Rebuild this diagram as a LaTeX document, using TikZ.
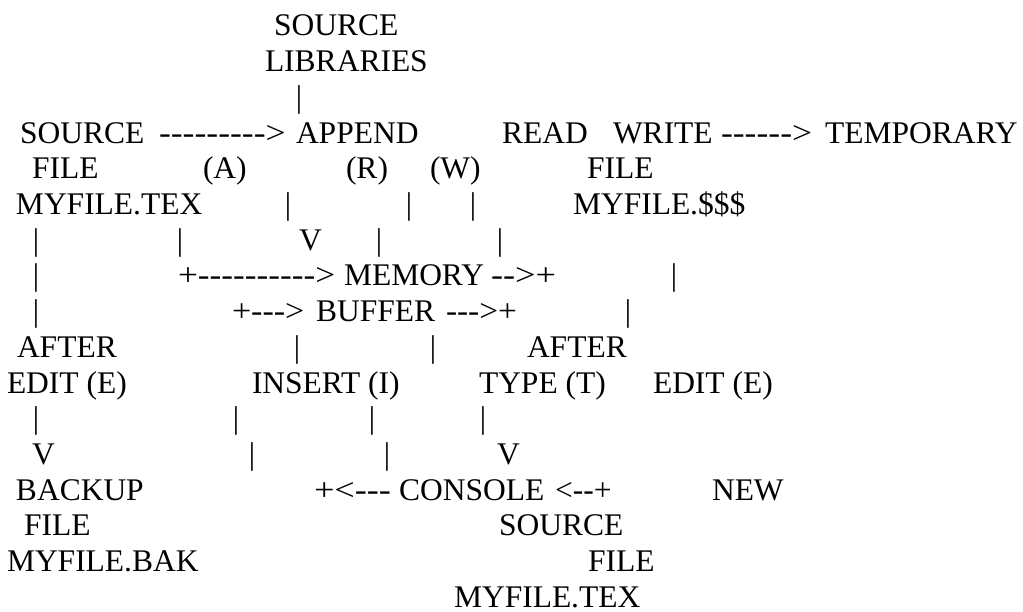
\documentclass[tikz,border=0pt]{standalone}
\usepackage{fontspec}
\usepackage{graphicx}
\setmainfont{Liberation Serif}
\tikzset{
  txt/.style={anchor=base west, inner sep=0pt, outer sep=0pt},
  bar/.style={anchor=base, inner sep=0pt, outer sep=0pt},
}
% one row of the chart: baseline in px from the top
\def\row#1{-(36+(#1-1)*35.7)}
% a run of dashes, a bit wider than the font sets it
\newcommand{\dashrun}[2]{\scalebox{#1}[1]{#2}}
\begin{document}
\begin{tikzpicture}[x=1pt,y=1pt,font=\fontsize{31.5}{36}\selectfont]
		%%%%% START %%%%%
		\useasboundingbox (0,0) rectangle (1023,-612);
		
		\node[txt] (srclib) at (274,{\row{1}}) {SOURCE};
		\node[txt] (srclibb) at (265,{\row{2}}) {LIBRARIES};
		\node[bar] (srclibbar) at (299,{\row{3}}) {|};
		
		\node[txt] (src) at (20,{\row{4}}) {SOURCE};
		\node[txt] (srcarr) at (159,{\row{4}}) {\dashrun{1.13}{-{}-{}-{}-{}-{}-{}-{}-{}->}};
		\node[txt] (append) at (296,{\row{4}}) {APPEND};
		\node[txt] (read) at (502,{\row{4}}) {READ};
		\node[txt] (write) at (613,{\row{4}}) {WRITE};
		\node[txt] (wrarr) at (721,{\row{4}}) {\dashrun{1.13}{-{}-{}-{}-{}-{}->}};
		\node[txt] (temp) at (825,{\row{4}}) {TEMPORARY};
		
		\node[txt] (srcb) at (32,{\row{5}}) {FILE};
		\node[txt] (a) at (203,{\row{5}}) {(A)};
		\node[txt] (r) at (346,{\row{5}}) {(R)};
		\node[txt] (w) at (430,{\row{5}}) {(W)};
		\node[txt] (tempb) at (587,{\row{5}}) {FILE};
		
		\node[txt] (srcc) at (16,{\row{6}}) {MYFILE.TEX};
		\node[bar] (a1) at (288,{\row{6}}) {|};
		\node[bar] (r1) at (409,{\row{6}}) {|};
		\node[bar] (w1) at (473,{\row{6}}) {|};
		\node[txt] (tempc) at (573,{\row{6}}) {MYFILE.\$\$\$};
		
		\node[bar] (s1) at (36,{\row{7}}) {|};
		\node[bar] (s2) at (180,{\row{7}}) {|};
		\node[txt] (av) at (299,{\row{7}}) {V};
		\node[bar] (r2) at (379,{\row{7}}) {|};
		\node[bar] (w2) at (500,{\row{7}}) {|};
		
		\node[bar] (s3) at (36,{\row{8}}) {|};
		\node[txt] (memarr) at (178,{\row{8}}) {\dashrun{1.12}{+-{}-{}-{}-{}-{}-{}-{}-{}-{}->}};
		\node[txt] (mem) at (344,{\row{8}}) {MEMORY};
		\node[txt] (memout) at (491,{\row{8}}) {\dashrun{1.15}{-{}->+}};
		\node[bar] (t1) at (674,{\row{8}}) {|};
		
		\node[bar] (s4) at (36,{\row{9}}) {|};
		\node[txt] (bufarr) at (232,{\row{9}}) {\dashrun{1.08}{+-{}-{}->}};
		\node[txt] (buf) at (316,{\row{9}}) {BUFFER};
		\node[txt] (bufout) at (446,{\row{9}}) {\dashrun{1.06}{-{}-{}->+}};
		\node[bar] (t2) at (628,{\row{9}}) {|};
		
		\node[txt] (aftera) at (17,{\row{10}}) {AFTER};
		\node[bar] (i1) at (297,{\row{10}}) {|};
		\node[bar] (i2) at (433,{\row{10}}) {|};
		\node[txt] (afterb) at (527,{\row{10}}) {AFTER};
		
		\node[txt] (edita) at (7,{\row{11}}) {EDIT (E)};
		\node[txt] (insert) at (252,{\row{11}}) {INSERT (I)};
		\node[txt] (type) at (479,{\row{11}}) {TYPE (T)};
		\node[txt] (editb) at (653,{\row{11}}) {EDIT (E)};
		
		\node[bar] (e1) at (36,{\row{12}}) {|};
		\node[bar] (i3) at (236,{\row{12}}) {|};
		\node[bar] (i4) at (372,{\row{12}}) {|};
		\node[bar] (t3) at (483,{\row{12}}) {|};
		
		\node[txt] (ev) at (32,{\row{13}}) {V};
		\node[bar] (i5) at (252,{\row{13}}) {|};
		\node[bar] (i6) at (387,{\row{13}}) {|};
		\node[txt] (tv) at (497,{\row{13}}) {V};
		
		\node[txt] (bak) at (16,{\row{14}}) {BACKUP};
		\node[txt] (conin) at (314,{\row{14}}) {\dashrun{1.15}{+<-{}-{}-}};
		\node[txt] (con) at (399,{\row{14}}) {CONSOLE};
		\node[txt] (conout) at (555,{\row{14}}) {<-{}-+};
		\node[txt] (new) at (712,{\row{14}}) {NEW};
		
		\node[txt] (bakb) at (24,{\row{15}}) {FILE};
		\node[txt] (newb) at (499,{\row{15}}) {SOURCE};
		
		\node[txt] (bakc) at (7,{\row{16}}) {MYFILE.BAK};
		\node[txt] (newc) at (588,{\row{16}}) {FILE};
		
		\node[txt] (newd) at (454,{\row{17}}) {MYFILE.TEX};
		%%%%% END %%%%%
	\end{tikzpicture}
\end{document}
